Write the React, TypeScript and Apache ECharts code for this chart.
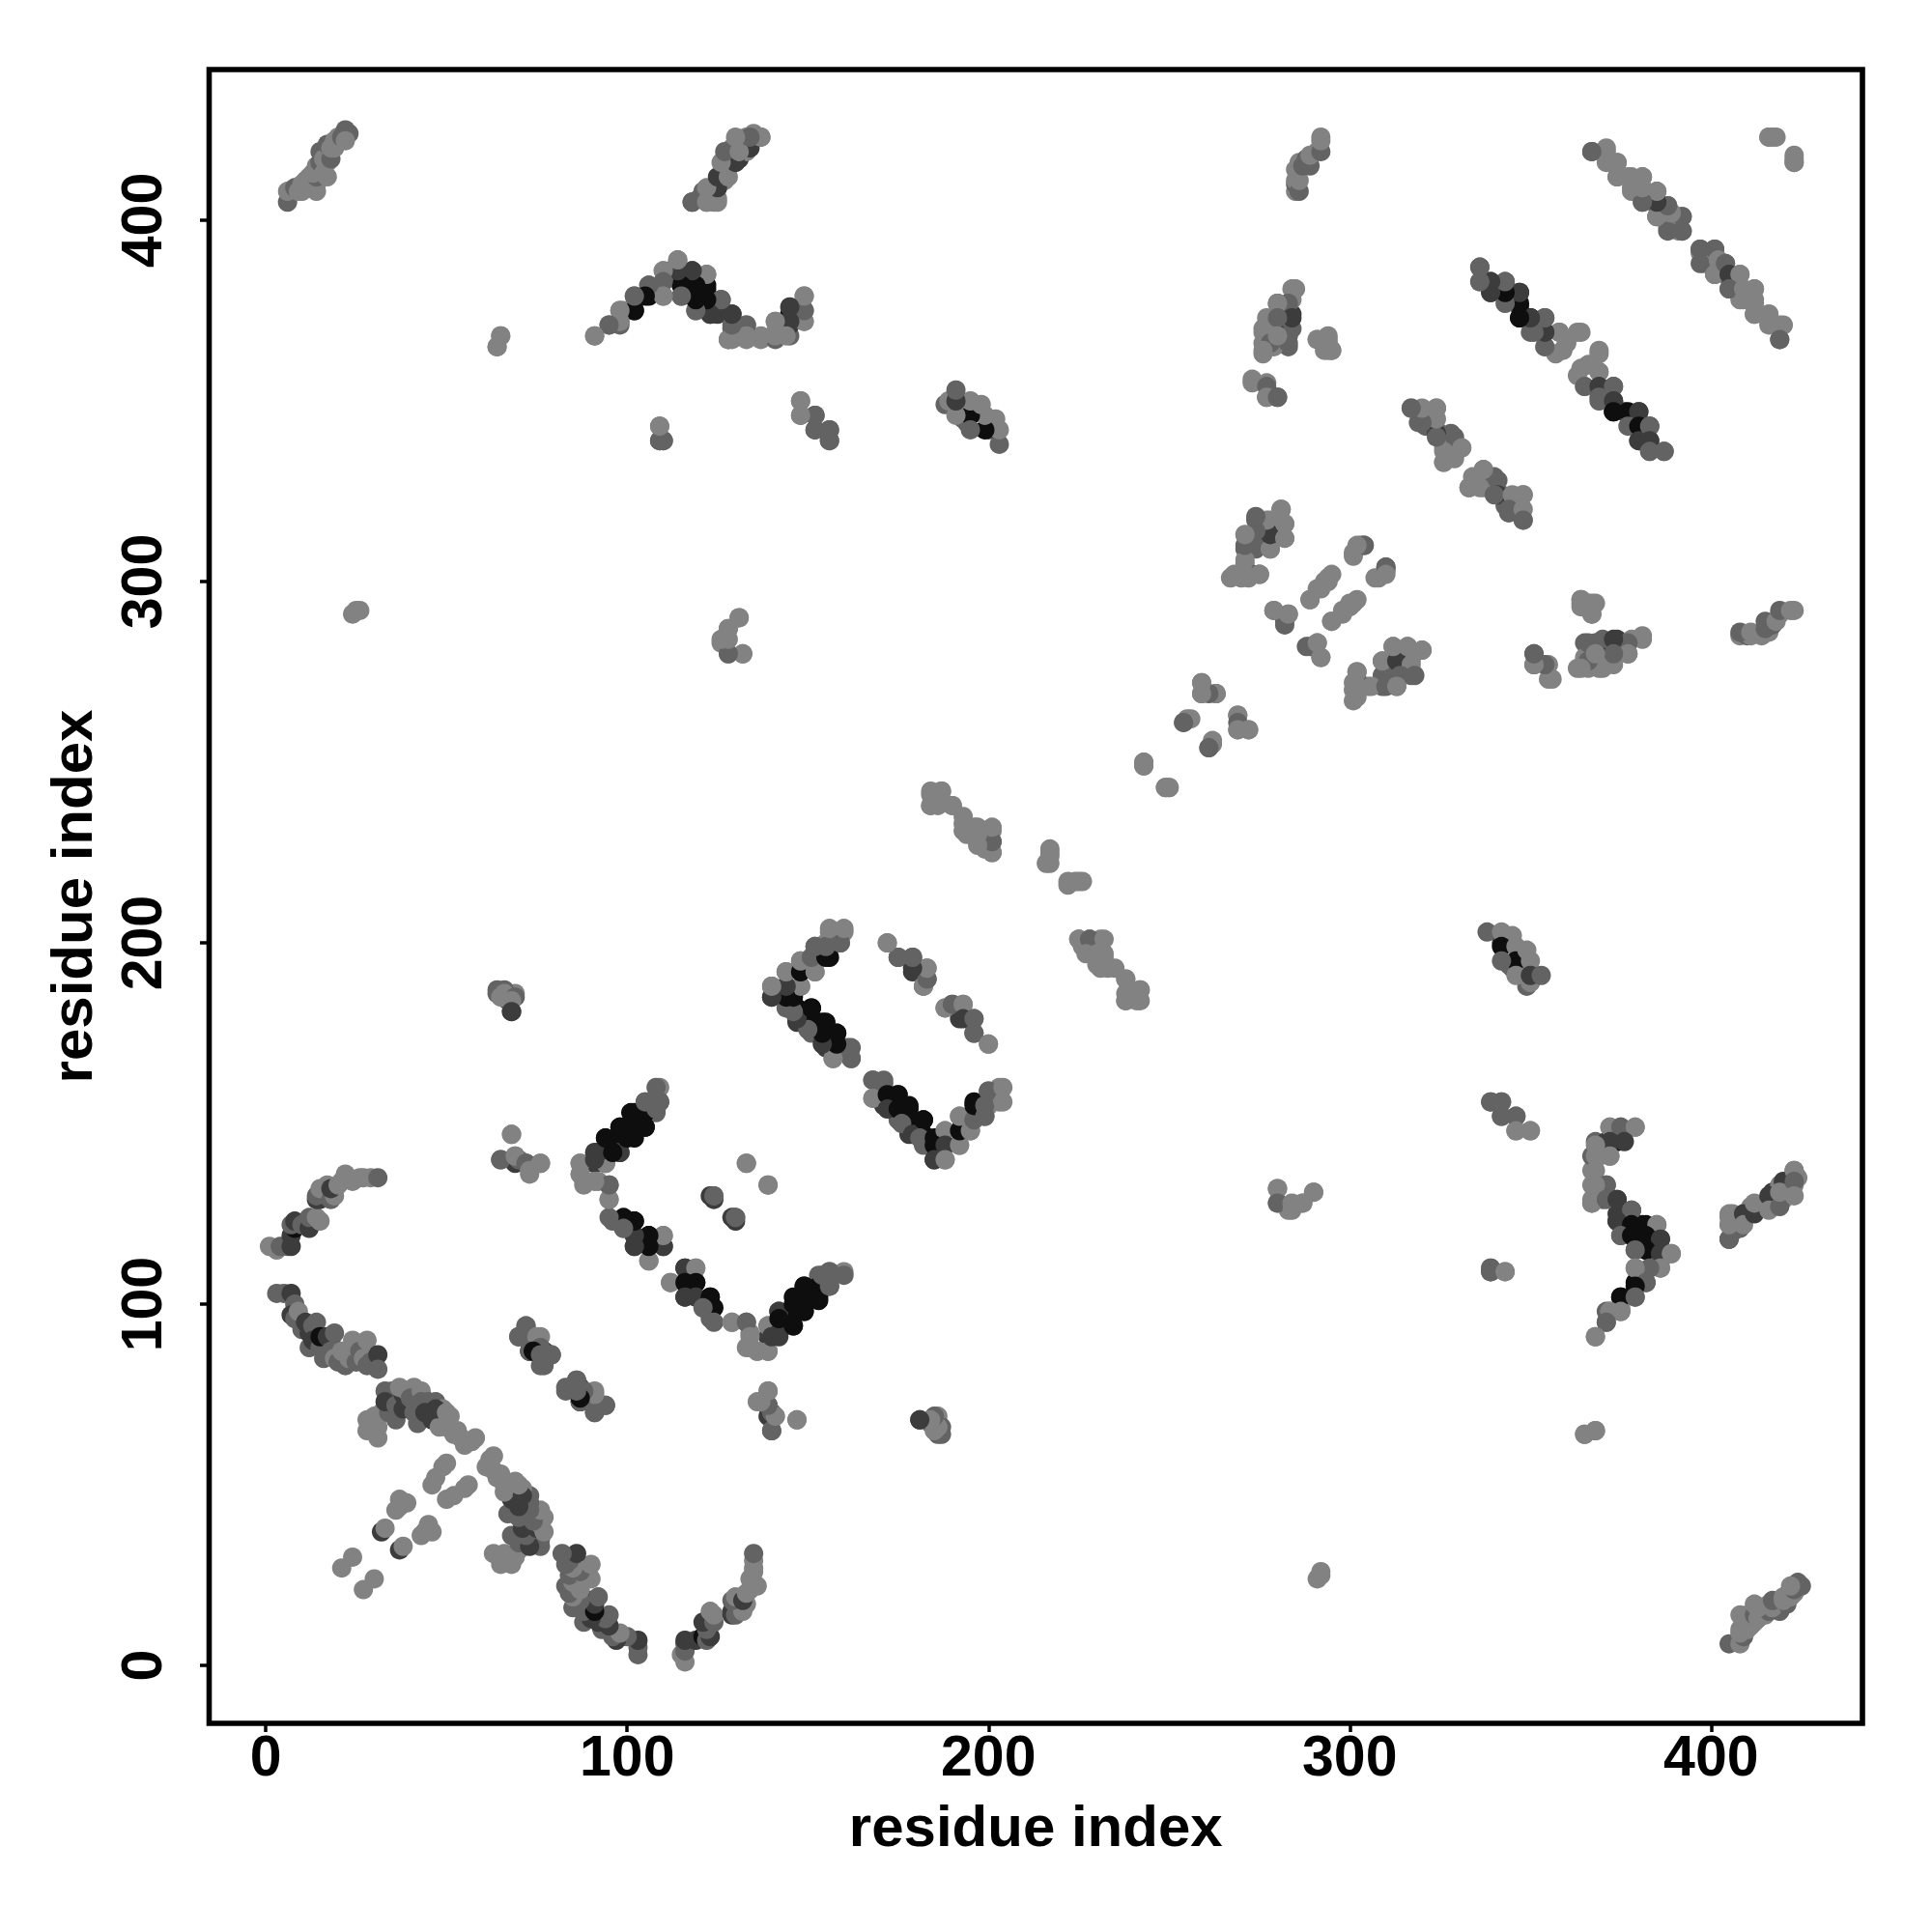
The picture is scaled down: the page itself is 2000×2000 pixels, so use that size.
import React, { useEffect, useRef } from "react";
import * as echarts from "echarts";

// Contact map: each contact [i, j, shade]. The map is symmetric, so each is also drawn at [j, i].
const shades = ["#828282", "#636363", "#3c3c3c", "#0e0e0e"];
const xTicks = [0, 100, 200, 300, 400];
const yTicks = [0, 100, 200, 300, 400];

const bandA = [[1,116,0],[3,115,0],[4,116,1],[6,116,1],[7,116,2],[7,119,2],[8,121,3],[7,122,1],[8,123,2],[10,122,1],[12,121,2],[12,124,1],[14,124,0],[15,123,0],[14,129,2],[15,129,2],[17,130,1],[14,130,1],[15,132,0],[17,133,0],[18,129,1],[19,130,0],[18,132,2],[20,133,0],[21,134,0],[22,136,0],[23,135,0],[24,134,0],[26,135,0],[27,135,0],[29,135,0],[31,135,1]];
const bandB = [[3,103,1],[5,103,1],[7,103,2],[8,100,1],[7,97,2],[8,96,1],[9,98,0],[10,93,1],[11,95,2],[12,92,2],[12,88,1],[13,94,1],[14,95,1],[13,90,2],[15,88,1],[15,91,3],[16,85,1],[17,91,2],[18,90,2],[19,92,1],[18,87,1],[19,85,0],[20,84,1],[22,83,1],[21,87,0],[23,85,0],[24,90,0],[25,84,1],[25,88,0],[26,87,1],[27,85,0],[28,83,1],[28,90,0],[29,84,1],[31,86,2],[31,82,1],[28,65,0],[28,68,0],[30,69,0],[31,66,0],[31,63,0],[30,66,0],[32,70,0],[34,70,1],[33,76,1],[35,76,1],[33,73,2],[36,68,1],[36,72,1],[38,75,2],[38,71,2],[37,77,0],[39,76,0],[41,77,0],[41,70,1],[40,74,1],[42,67,1],[43,76,0],[43,73,1],[45,73,1],[47,73,1],[44,70,2],[46,68,2],[49,71,0],[48,66,0],[47,71,2],[50,70,0],[51,69,0],[50,66,0],[52,64,0],[53,65,0],[54,63,0],[55,61,0],[57,62,0],[58,63,0]];
const crossBand = [[21,27,0],[24,30,0],[32,37,2],[33,38,0],[36,43,0],[37,44,0],[38,45,0],[37,46,0],[39,45,0],[46,50,0],[47,52,0],[49,55,0],[50,56,0]];
const bandTopLeft = [[6,405,1],[6,408,0],[8,409,1],[9,408,0],[10,408,0],[10,410,0],[11,411,0],[12,409,0],[12,412,0],[14,408,0],[14,410,0],[14,412,1],[13,413,0],[14,415,0],[15,416,1],[15,419,1],[16,413,0],[16,417,0],[17,412,0],[17,416,0],[17,421,1],[18,417,1],[18,420,0],[19,420,0],[19,422,0],[20,423,0],[21,423,1],[22,425,1],[23,424,1],[22,422,0]];
const bandTop = [[118,405,2],[120,406,1],[121,408,1],[122,405,0],[123,408,2],[124,405,0],[124,407,0],[125,406,0],[125,409,2],[126,412,2],[127,411,0],[127,414,1],[128,416,0],[129,418,2],[130,418,1],[131,417,2],[129,420,0],[131,422,0],[132,420,1],[133,423,0],[134,421,1],[135,424,0],[137,423,1],[133,419,0]];
const hump = [[91,368,0],[95,371,1],[98,371,1],[98,372,0],[98,375,1],[99,375,0],[102,375,3],[102,379,1],[106,379,3],[106,382,1],[110,379,0],[110,383,1],[110,386,0],[112,386,1],[114,389,0],[115,386,3],[118,386,2],[115,382,2],[115,379,1],[119,382,3],[119,378,3],[119,375,0],[122,381,3],[122,378,3],[122,385,0],[123,374,2],[126,378,2],[125,374,2],[129,374,2],[129,370,1],[128,367,1],[129,367,0],[133,367,0],[133,371,1],[132,368,0],[137,367,0],[141,367,1],[141,369,0],[141,372,0],[145,368,1],[145,371,2],[145,374,3],[149,372,0],[149,375,1],[149,379,0]];
const smallTop = [[109,343,0],[109,339,2],[110,339,1],[148,350,0],[148,346,0],[152,346,1],[152,342,1],[156,342,1],[156,339,1],[188,349,1],[189,350,0],[192,347,0],[193,345,1],[194,344,1],[197,347,0],[200,342,2],[200,345,0],[203,338,1],[203,342,0],[202,345,0],[199,342,3],[199,346,0],[195,346,3],[195,342,1],[198,349,0],[195,350,0],[191,346,0],[191,350,2],[191,353,1],[64,365,0],[65,368,0],[24,291,0],[25,292,0],[26,292,0],[126,283,0],[128,287,0],[131,290,0],[128,280,0],[132,280,0]];
const cluster270 = [[281,320,0],[274,317,1],[278,317,0],[282,316,0],[271,313,0],[274,313,1],[278,313,2],[282,312,0],[278,309,0],[274,309,1],[271,309,1],[271,305,0],[275,302,1],[273,302,1],[272,301,0],[270,301,0],[267,301,0]];
const cluster300 = [[301,307,0],[303,310,1],[304,310,1],[308,301,0],[310,304,1],[310,302,0],[294,301,0],[293,300,0],[291,298,0],[289,295,0],[300,294,0],[302,295,0],[298,292,0],[295,289,0],[279,292,0],[283,291,0],[282,288,1],[289,282,1],[291,283,0],[292,279,0]];
const cluster310 = [[302,275,0],[302,271,0],[302,268,0],[306,271,0],[310,275,1],[310,271,1],[309,278,0],[313,278,2],[312,282,0],[316,282,0],[320,281,0],[317,277,0],[314,274,1],[318,274,1],[313,271,0]];
const cluster350 = [[351,280,1],[351,277,1],[355,277,0],[356,273,0],[364,294,0],[364,295,0],[368,294,0],[366,294,0],[367,291,0],[365,283,1],[368,283,1],[370,284,1],[374,284,2],[378,284,0],[381,285,0],[370,279,2],[365,279,0],[373,279,0],[377,280,1],[363,276,0],[366,276,0],[370,276,0],[373,277,0]];
const bandCorner = [[416,423,0],[418,423,0],[423,417,0],[423,416,0]];
const bandUpper1 = [[367,419,1],[371,419,0],[372,416,0],[374,416,0],[374,412,0],[378,412,0],[381,412,0],[378,408,0],[381,408,0],[385,408,0],[381,405,0],[385,404,1],[388,404,0],[385,401,1],[388,398,0],[389,402,0],[392,401,1],[392,397,1],[391,397,0]];
const bandUpper2 = [[397,392,1],[401,392,1],[397,388,1],[402,389,0],[401,385,0],[404,388,1],[405,385,2],[408,385,0],[405,381,1],[409,381,0],[412,381,0],[409,378,0],[412,377,0],[412,374,0],[416,374,0],[416,371,0],[420,371,0],[419,367,1]];
const bandC = [[336,387,1],[336,383,0],[339,383,2],[339,380,2],[343,383,2],[343,379,2],[347,380,2],[347,376,2],[347,373,3],[350,373,3],[350,369,1],[354,373,1],[354,369,1],[358,369,0],[364,369,0],[354,365,0],[357,363,0],[360,366,0]];
const bandD = [[369,363,0],[364,359,0],[366,360,0],[369,358,0],[365,354,1],[369,354,2],[373,354,1],[369,351,1],[373,350,2],[373,347,3],[377,347,3],[380,347,2],[377,343,1],[380,343,3],[380,339,2],[383,343,1],[383,339,2],[383,336,1],[387,336,1]];
const bandE = [[317,348,0],[319,344,1],[324,348,0],[321,343,1],[324,342,1],[328,341,1],[326,337,0],[326,333,0],[331,337,0],[329,334,0],[334,327,0],[338,327,0],[340,329,1],[341,324,2],[337,331,0],[333,326,0],[336,326,0],[340,324,1],[345,324,0],[348,324,0],[344,320,1],[348,320,0],[348,317,1]];
const rightBand = [[408,285,0],[410,285,1],[411,285,0],[414,285,0],[416,286,0],[417,288,1],[419,291,0],[423,292,0]];
const clusterS = [[339,156,1],[342,156,1],[342,152,1],[346,152,1],[346,148,0],[350,148,0],[339,110,1],[339,109,1],[343,109,0],[365,64,0],[368,65,0],[372,149,0],[375,149,1],[379,149,0],[372,145,2],[376,145,2],[368,144,0],[368,141,0],[372,141,0],[368,137,0],[371,133,1],[368,133,0],[367,128,0],[371,129,1],[374,129,2],[378,126,1],[374,123,2],[378,122,3],[382,122,3],[385,122,0],[375,119,1],[378,119,3],[382,119,3],[386,118,2],[382,115,3],[379,115,1],[386,114,2],[389,114,0],[386,110,0],[383,110,1],[379,110,0],[382,106,1],[379,105,3],[375,102,3],[379,102,1],[375,98,0],[372,98,0],[371,95,1],[368,91,0]];
const bandRight2 = [[405,118,1],[405,122,0],[405,125,0],[409,125,2],[409,122,0],[412,125,2],[412,128,0],[416,130,2],[416,126,0],[419,127,1],[420,134,2],[419,131,0],[423,137,0],[423,134,1],[423,130,0]];
const vUpper = [[160,203,0],[156,203,0],[159,200,1],[155,200,0],[152,199,1],[156,196,3],[152,196,2],[148,195,0],[152,192,0],[148,192,3],[144,192,0],[148,188,0],[144,188,2],[140,188,1],[140,185,2],[144,182,1],[147,182,3],[151,182,3],[147,178,2],[151,178,3],[155,178,3],[151,175,1],[155,175,3],[158,175,2],[155,171,2],[158,171,3],[162,171,1],[157,168,0],[162,168,1]];
const vRight = [[168,162,1],[171,161,1],[168,157,0],[172,158,3],[175,158,3],[172,154,2],[175,154,3],[178,154,3],[176,150,1],[179,147,2],[182,151,3],[181,146,1],[185,146,3],[188,148,0],[185,144,3],[188,144,2],[185,140,2],[188,140,0],[192,144,0],[192,148,3],[192,152,0],[195,148,0],[196,151,1],[196,155,3],[199,152,1],[200,159,1],[199,155,1],[204,156,0],[204,160,0]];
const dotsMid = [[172,200,0],[175,196,1],[179,196,1],[179,192,2],[183,193,0],[183,190,1],[182,188,0],[188,182,0],[190,183,1],[193,183,0],[193,179,2],[196,179,1],[196,175,1],[200,172,0],[184,238,0],[186,238,0],[184,241,0],[187,242,0],[190,238,0],[193,233,0],[194,230,0],[196,232,0],[197,228,0],[199,226,0],[201,231,0],[201,228,0],[201,225,0],[217,225,0],[216,222,0],[222,217,0],[226,217,0],[224,217,0],[225,201,0],[228,201,1],[232,201,0],[227,197,0],[230,197,0],[232,197,0],[231,193,0],[235,193,0],[238,190,0],[242,187,0],[238,184,0],[242,184,0],[243,250,0],[243,249,0],[249,243,0],[250,243,0],[256,262,0],[254,261,0],[259,272,0],[259,269,0],[263,269,1],[262,255,0],[261,254,1],[269,263,0],[269,261,1],[269,259,0],[272,259,0]];
const bandLeftV = [[109,160,0],[105,156,2],[109,156,1],[108,153,1],[102,153,3],[105,153,3],[105,149,3],[98,149,3],[102,149,3],[94,146,3],[98,146,3],[102,146,3],[95,142,2],[98,142,2],[91,142,2],[91,139,2],[94,139,1],[87,139,0],[87,136,0],[88,134,0],[92,134,0],[95,133,1],[95,129,0],[133,139,0],[139,133,0],[124,129,2],[124,130,1],[130,123,2],[130,124,1]];
const bandLowerV = [[96,123,1],[99,123,3],[102,123,3],[99,121,1],[102,119,2],[106,119,3],[110,119,0],[102,116,2],[106,116,3],[110,116,2],[106,112,0],[116,110,2],[119,110,0],[112,106,0],[116,106,3],[119,106,3],[116,102,2],[119,102,2],[123,102,3],[124,99,3],[121,99,1],[124,95,1],[129,95,0],[133,95,1],[134,91,0],[133,88,0],[136,87,0],[139,87,0],[139,94,0],[140,91,2],[142,92,2],[142,98,2],[142,96,3],[146,94,3],[146,100,3],[149,98,3],[149,105,3],[153,101,3],[154,108,1],[156,105,1],[156,109,1],[160,108,1]];
const smallMid = [[91,76,0],[94,72,1],[91,70,1],[87,73,3],[86,79,1],[83,76,1],[87,77,2],[91,72,1],[70,91,1],[72,94,1],[75,91,0],[76,88,1],[73,87,1],[74,87,3],[77,83,1],[79,86,1],[76,86,1],[139,76,0],[136,73,0],[139,72,1],[139,69,2],[141,69,0],[140,65,1],[147,68,0],[181,68,2],[186,69,0],[184,67,1],[187,66,1],[187,64,1],[185,68,1],[64,186,1],[66,186,0],[65,185,0],[69,185,1],[68,184,0],[68,181,2],[65,140,1],[70,140,1],[69,141,0],[68,147,0],[72,139,1],[73,137,0],[76,139,0],[280,132,0],[280,128,1],[284,128,0],[284,126,0],[287,128,0],[290,131,0]];
const cluster280 = [[284,381,0],[283,377,1],[280,377,0],[284,373,2],[278,372,0],[280,373,1],[276,369,0],[278,366,1],[283,366,1],[276,364,0],[280,368,0],[273,355,0],[277,354,1],[277,351,0],[280,351,1],[291,367,0],[294,367,0],[293,364,0],[295,364,0],[286,408,1],[286,411,0],[287,415,1],[289,415,1],[289,418,0],[292,419,1],[292,422,0]];

const groups = [bandA, bandB, crossBand, bandTopLeft, bandTop, hump, smallTop, cluster270, cluster300, cluster310, cluster350, bandCorner, bandUpper1, bandUpper2, bandC, bandD, bandE, rightBand, clusterS, bandRight2, vUpper, vRight, dotsMid, bandLeftV, bandLowerV, smallMid, cluster280];

const axisText = { fontFamily: "Liberation Sans", fontWeight: "bold" as const, color: "#000", fontSize: 59 };

export default function App() {
  const ref = useRef<HTMLDivElement>(null);
  useEffect(() => {
    const chart = echarts.init(ref.current!, undefined, { renderer: "svg" });
    const points: any[] = [];
    for (const g of groups) {
      for (const [i, j, s] of g) {
        points.push({ value: [i, j], itemStyle: { color: shades[s], opacity: 1 } });
        points.push({ value: [j, i], itemStyle: { color: shades[s], opacity: 1 } });
      }
    }
    chart.setOption({
      animation: false,
      backgroundColor: "#fff",
      grid: { left: 216.5, top: 72, width: 1711.5, height: 1712, show: true, borderColor: "#000", borderWidth: 5.6, backgroundColor: "transparent" },
      xAxis: {
        type: "value", min: -15.7, max: 441.9, name: "residue index", nameLocation: "middle", nameGap: 76,
        nameTextStyle: { ...axisText, fontSize: 60 },
        splitLine: { show: false }, axisLine: { show: false, onZero: false },
        axisTick: { show: true, length: 9, customValues: xTicks, lineStyle: { color: "#000", width: 3.5 } },
        axisLabel: { ...axisText, margin: 4, customValues: xTicks, formatter: (v: number) => String(v) },
      },
      yAxis: {
        type: "value", min: -16, max: 441.7, name: "residue index", nameLocation: "middle", nameGap: 112,
        nameTextStyle: { ...axisText, fontSize: 60 },
        splitLine: { show: false }, axisLine: { show: false, onZero: false },
        axisTick: { show: true, length: 9.5, customValues: yTicks, lineStyle: { color: "#000", width: 3.5 } },
        axisLabel: { ...axisText, margin: 40, rotate: 90, customValues: yTicks, formatter: (v: number) => String(v) },
      },
      series: [{ type: "scatter", symbol: "circle", symbolSize: 20, data: points, silent: true, clip: false }],
    });
    return () => chart.dispose();
  }, []);
  return <div ref={ref} style={{ position: "absolute", left: 0, top: 0, width: 2000, height: 2000 }} />;
}
